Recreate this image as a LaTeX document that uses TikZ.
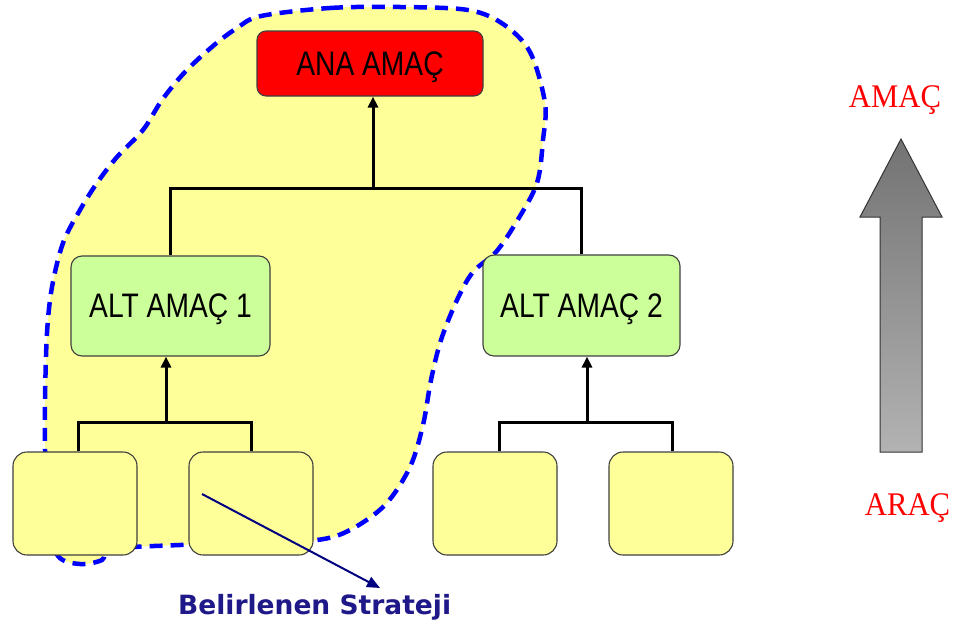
\documentclass[tikz,border=0pt]{standalone}
\usepackage{fontspec}
\setmainfont{Liberation Sans}
\newfontfamily\boxfont[FakeStretch=0.83]{Liberation Sans}
\newfontfamily\serifred[FakeStretch=0.93]{Liberation Serif}
\newfontfamily\labelfont{DejaVu Sans}
\usetikzlibrary{arrows.meta}

\definecolor{blobyellow}{HTML}{FFFF99}
\definecolor{leafgreen}{HTML}{CCFF99}
\definecolor{edgegray}{HTML}{404040}
\definecolor{stratnavy}{HTML}{1E1888}
\definecolor{arrownavy}{HTML}{000080}
\definecolor{blobblue}{HTML}{0000FF}

\tikzset{
  goalbox/.style={draw=edgegray, line width=1.1pt, rounded corners=9pt,
    inner sep=0pt, text depth=0pt, font=\boxfont\fontsize{34}{40}\selectfont},
  leafbox/.style={draw=edgegray, line width=1.1pt, fill=blobyellow,
    rounded corners=14pt, minimum width=124pt, minimum height=103pt, inner sep=0pt},
  conn/.style={line width=3pt, black},
  uparrow/.style={line width=3pt, black, -{Triangle[length=11pt,width=10pt]}},
  blob/.style={line width=4.5pt, draw=blobblue, fill=blobyellow,
    dash pattern=on 13pt off 8pt},
}

\begin{document}
\begin{tikzpicture}[x=1pt, y=-1pt]
\useasboundingbox (0,0) rectangle (966,629);

% region enclosing the chosen strategy
\path[blob] plot[smooth cycle, tension=0.55] coordinates {
  (261,16) (330,8) (400,7) (468,10) (503,24) (530,52) (545,103) (543,140)
  (537,183) (517,221) (496,252) (473,272) (457,300) (441,340) (431,380)
  (423,425) (410,467) (385,505) (350,530) (317,540) (250,543) (180,545)
  (112,549) (102,560) (80,564) (58,556) (46,520) (45,450) (45,400)
  (47,333) (52,287) (63,243) (80,210) (97,183) (117,157) (143,130)
  (162,100) (185,72) (213,46) (237,28)};

% goal hierarchy
\node[goalbox, fill=red, minimum width=226pt, minimum height=65pt]
  (ana) at (370,63.5) {ANA AMAÇ};
\node[goalbox, fill=leafgreen, rounded corners=11pt, minimum width=199pt, minimum height=100pt]
  (alt1) at (170.5,306) {ALT AMAÇ 1};
\node[goalbox, fill=leafgreen, rounded corners=11pt, minimum width=197pt, minimum height=101pt]
  (alt2) at (581.5,305.5) {ALT AMAÇ 2};

\node[leafbox] (b1) at (75,503.5) {};
\node[leafbox] (b2) at (251,503.5) {};
\node[leafbox] (b3) at (495,503.5) {};
\node[leafbox] (b4) at (671,503.5) {};

% junction points of the tree
\coordinate (j0) at (373,188);
\coordinate (j1) at (166,422);
\coordinate (j2) at (587,422);

\draw[conn] (alt1.north) -- (alt1.north |- j0) -- (alt2.north |- j0) -- (alt2.north);
\draw[uparrow] (j0) -- (j0 |- ana.south);

\draw[conn] ([xshift=3pt]b1.north) -- ([xshift=3pt]b1.north |- j1) -- (b2.north |- j1) -- (b2.north);
\draw[uparrow] (j1) -- (j1 |- alt1.south);

\draw[conn] ([xshift=4pt]b3.north) -- ([xshift=4pt]b3.north |- j2) -- ([xshift=1pt]b4.north |- j2) -- ([xshift=1pt]b4.north);
\draw[uparrow] (j2) -- (j2 |- alt2.south);

% pointer to the strategy label
\coordinate (s0) at (202,494);
\coordinate (s1) at (380,588);
\draw[arrownavy, line width=2pt, -{Triangle[length=13pt,width=11pt]}] (s0) -- (s1);
\node[anchor=base west, text=stratnavy, inner sep=0pt,
  font=\labelfont\bfseries\fontsize{26.5}{30}\selectfont]
  (strat) at (178,614) {Belirlenen Strateji};

% means-to-ends arrow
\node[anchor=base, text=red, inner sep=0pt, font=\serifred\fontsize{33}{38}\selectfont]
  (amac) at (895,107) {AMAÇ};
\node[anchor=base, text=red, inner sep=0pt, font=\serifred\fontsize{33}{38}\selectfont]
  (arac) at (907.5,515) {ARAÇ};
\path[draw=black!80, line width=1pt, top color=black!55, bottom color=black!30]
  (901,139) -- (942,217) -- (922,217) -- (922,452) -- (880,452) -- (880,217)
  -- (860,217) -- cycle;
\end{tikzpicture}
\end{document}
